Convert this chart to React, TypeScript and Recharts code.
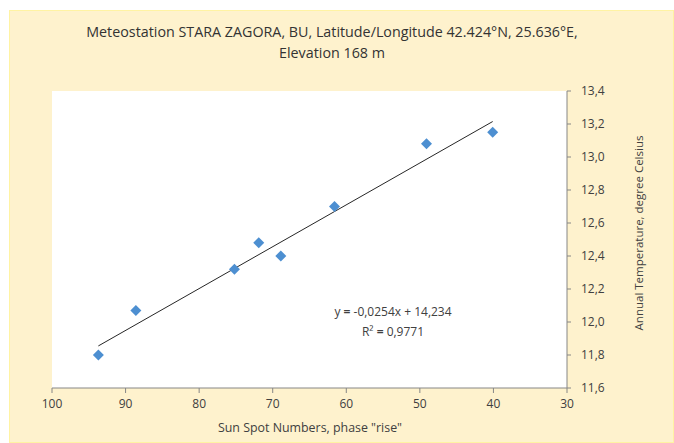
import { ScatterChart, Scatter, XAxis, YAxis, CartesianGrid } from "recharts"

// readings (sun spot number vs annual temperature)
const sunSpots = [93.7, 88.6, 75.2, 71.9, 68.9, 61.6, 49.1, 40.1]
const temps = [11.8, 12.07, 12.32, 12.48, 12.4, 12.7, 13.08, 13.15]

// linear trend line ends, as drawn
const trendX = [93.7, 40.1]
const trendY = [11.855, 13.215]

const xTicks = [100, 90, 80, 70, 60, 50, 40, 30]
const yTicks = [11.6, 11.8, 12.0, 12.2, 12.4, 12.6, 12.8, 13.0, 13.2, 13.4]

const FONT = "'Open Sans', Lato, sans-serif"
const TEXT = "#404040"
const AXIS = "#868686"

const points = sunSpots.map((x, i) => ({ x, y: temps[i] }))
const trend = trendX.map((x, i) => ({ x, y: trendY[i] }))

function Diamond(props: any) {
  const { cx, cy } = props
  const r = 5.5
  return (
    <path
      d={`M${cx},${cy - r}L${cx + r},${cy}L${cx},${cy + r}L${cx - r},${cy}Z`}
      fill="#4d8fd1"
    />
  )
}

export default function App() {
  return (
    <div
      style={{
        position: "absolute",
        left: 9,
        top: 10,
        width: 665,
        height: 433,
        boxSizing: "border-box",
        border: "1px solid #fff3a3",
        background: "#fef2cd",
        fontFamily: FONT,
        color: "#333333",
        overflow: "hidden",
      }}
    >
      <div
        style={{
          position: "absolute",
          left: 0,
          width: 644,
          top: 10,
          textAlign: "center",
          fontSize: 14.3,
          lineHeight: "21px",
        }}
      >
        Meteostation STARA ZAGORA, BU, Latitude/Longitude 42.424°N, 25.636°E,
        <br />
        Elevation 168 m
      </div>

      <div style={{ position: "absolute", left: 0, top: 0 }}>
        <ScatterChart
          width={660}
          height={432}
          margin={{ top: 80, left: 42, right: 43, bottom: 15 }}
        >
          <CartesianGrid fill="#ffffff" stroke="none" horizontal={false} vertical={false} />
          <XAxis
            type="number"
            dataKey="x"
            domain={[30, 100]}
            ticks={xTicks}
            reversed
            allowDataOverflow
            height={40}
            tickSize={5}
            tickMargin={6}
            stroke={AXIS}
            tick={{ fill: TEXT, fontSize: 12, fontFamily: FONT }}
          />
          <YAxis
            type="number"
            dataKey="y"
            orientation="right"
            domain={[11.6, 13.4]}
            ticks={yTicks}
            allowDataOverflow
            width={60}
            tickSize={4}
            tickMargin={10}
            stroke={AXIS}
            tick={{ fill: TEXT, fontSize: 12, fontFamily: FONT, textAnchor: "start" }}
            tickFormatter={(v: number) => v.toFixed(1).replace(".", ",")}
          />
          <Scatter
            data={trend}
            line={{ stroke: "#262626", strokeWidth: 1 }}
            shape={() => null}
            isAnimationActive={false}
          />
          <Scatter data={points} shape={<Diamond />} isAnimationActive={false} />
        </ScatterChart>
      </div>

      <div
        style={{
          position: "absolute",
          left: 283,
          top: 291,
          width: 200,
          textAlign: "center",
          fontSize: 12,
          lineHeight: "20px",
          color: TEXT,
        }}
      >
        y <b>=</b> -0,0254x + 14,234
        <br />
        R² <b>=</b> 0,9771
      </div>

      <div
        style={{
          position: "absolute",
          left: 200,
          width: 200,
          top: 408,
          textAlign: "center",
          fontSize: 12.4,
          color: TEXT,
        }}
      >
        Sun Spot Numbers, phase "rise"
      </div>

      <div
        style={{
          position: "absolute",
          left: 628,
          top: 222,
          width: 0,
          height: 0,
        }}
      >
        <div
          style={{
            position: "absolute",
            transform: "translate(-50%, -50%) rotate(-90deg)",
            whiteSpace: "nowrap",
            fontSize: 11.5,
            color: TEXT,
          }}
        >
          Annual Temperature, degree Celsius
        </div>
      </div>
    </div>
  )
}
